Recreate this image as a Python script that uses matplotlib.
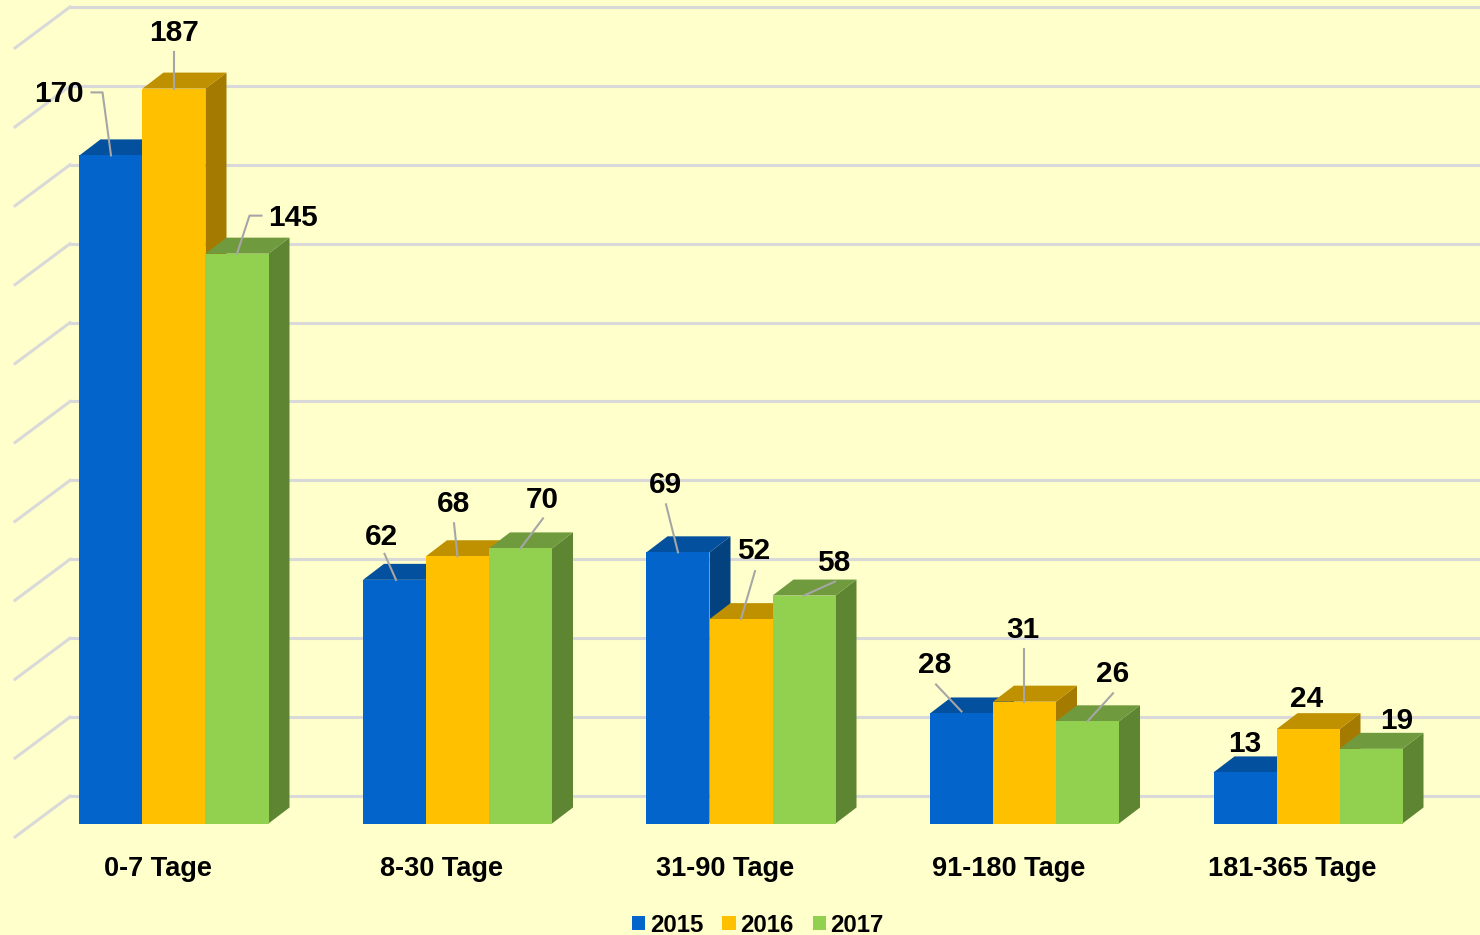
import matplotlib
matplotlib.use("Agg")
import matplotlib.pyplot as plt
from matplotlib.patches import Patch, Polygon

plt.rcParams['font.family'] = ['Liberation Sans', 'DejaVu Sans']
plt.rcParams['font.weight'] = 'bold'

categories = ["0-7 Tage", "8-30 Tage", "31-90 Tage", "91-180 Tage", "181-365 Tage"]
years = ["2015", "2016", "2017"]
v2015 = [170, 62, 69, 28, 13]
v2016 = [187, 68, 52, 31, 24]
v2017 = [145, 70, 58, 26, 19]
grid_values = [0, 20, 40, 60, 80, 100, 120, 140, 160, 180, 200]

front = ["#0365CC", "#FFC000", "#92D050"]
top = ["#03509F", "#BF9000", "#6F9B3E"]
side = ["#03417F", "#A47B00", "#5E8632"]
bg = "#FFFFCC"

W, H = 1480, 935
unit_x = 283.5          # px per category
unit_y = 3.93           # px per value
grid_scale = 3.945 / unit_y   # wall is drawn a bit bigger than the bars
bar_w = 63 / unit_x
depth_x = 21 / unit_x
depth_y = 16 / unit_y

# label offset from top middle of the front face, in px (right, up)
label_off = [
    [(-52.5, 61), (-13.5, 43), (-13, 67), (-26.5, 48), (0, 28)],
    [(0, 56), (-4.5, 52), (13, 68), (-1.5, 72), (-1, 30)],
    [(56.5, 36), (21.5, 48), (30, 33), (25.5, 47), (26, 28)],
]
# leader lines, same offsets. None = no line
leaders = [
    [[(-19.5, 63), (-8.5, 63), (0, 0)], [(-10, 26), (1.5, 0)], [(-12, 48), (0, 0)], [(-25.5, 29), (0, 2)], None],
    [[(0, 37), (0, 0)], [(-3.5, 33), (0, 0)], [(14, 48), (0, 0)], [(-0.5, 53), (-0.5, 0)], None],
    [[(24.5, 38), (12.5, 38), (0, 0)], [(22.5, 30), (0, 0)], [(31, 14), (0, 0)], [(25.5, 28), (0, 0)], None],
]

fig = plt.figure(figsize=(W / 100, H / 100), dpi=100, facecolor=bg)
ax = fig.add_axes([0, 0, 1, 1])
ax.set_xlim(-174 / unit_x, (W - 174) / unit_x)
ax.set_ylim((823.5 - H) / unit_y, 823.5 / unit_y)
ax.axis("off")

# back wall grid + the slanted bit on the left
grid_back = 27.5 / unit_y
for g in grid_values:
    y = g * grid_scale + grid_back
    ax.plot([70 / unit_x - 174 / unit_x, (W - 174) / unit_x], [y, y], color="#D9D9D9", lw=2.2, zorder=1)
    ax.plot([15 / unit_x - 174 / unit_x, 70 / unit_x - 174 / unit_x], [y - 41 / unit_y, y],
            color="#D9D9D9", lw=2.2, zorder=1)

series = [v2015, v2016, v2017]
for s, vals in enumerate(series):
    x_pos = [i + (s - 1) * bar_w for i in range(len(vals))]
    for x, v in zip(x_pos, vals):
        l, r = x - bar_w / 2, x + bar_w / 2
        z = 3 + s
        ax.add_patch(Polygon([(r, 0), (r + depth_x, depth_y), (r + depth_x, v + depth_y), (r, v)],
                             facecolor=side[s], edgecolor="none", zorder=z))
        ax.add_patch(Polygon([(l, v), (l + depth_x, v + depth_y), (r + depth_x, v + depth_y), (r, v)],
                             facecolor=top[s], edgecolor="none", zorder=z))
    ax.bar(x_pos, vals, width=bar_w, color=front[s], linewidth=0, zorder=3 + s)

for s, vals in enumerate(series):
    for c, v in enumerate(vals):
        x = c + (s - 1) * bar_w
        ox, oy = label_off[s][c]
        ax.annotate(str(v), (x, v), xytext=(ox, oy), textcoords="offset pixels",
                    ha="center", va="center", fontsize=21.4, color="black", zorder=10)
        pts = leaders[s][c]
        if pts:
            xs = [x + p[0] / unit_x for p in pts]
            ys = [v + p[1] / unit_y for p in pts]
            ax.plot(xs, ys, color="#A6A6A6", lw=1.5, zorder=9)

for c, name in enumerate(categories):
    ax.annotate(name, (c, 0), xytext=(-16, -45), textcoords="offset pixels",
                ha="center", va="center", fontsize=19.5, color="black")

handles = [Patch(facecolor=front[s], edgecolor="none", label=years[s]) for s in range(3)]
fig.legend(handles=handles, loc="center", bbox_to_anchor=(758 / W, 1 - 925 / H), ncol=3, frameon=False,
           fontsize=17.3, handlelength=0.55, handleheight=0.55, handletextpad=0.2, columnspacing=0.78,
           borderpad=0, labelspacing=0)

fig.savefig("out.png", dpi=100, facecolor=bg)
